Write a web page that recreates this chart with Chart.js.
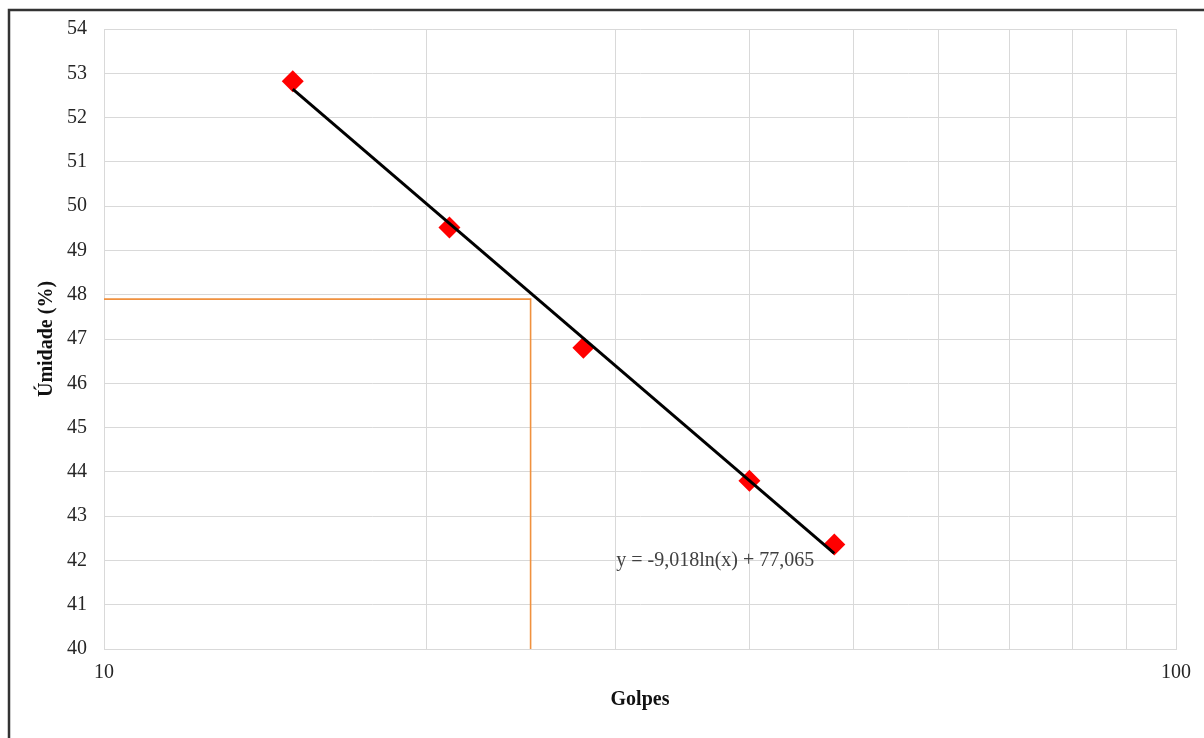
<!DOCTYPE html>
<html>
<head>
<meta charset="utf-8">
<script src="https://cdn.jsdelivr.net/npm/chart.js@4/dist/chart.umd.min.js"></script>
<style>
  html, body { margin: 0; padding: 0; background: #fff; }
  #wrap { width: 1204px; height: 738px; }
</style>
</head>
<body>
<div id="wrap"><canvas id="golpes_chart" width="1204" height="738"></canvas></div>
<script>
// Points
const golpes = [15, 21, 28, 40, 48];
const umidade = [52.82, 49.52, 46.8, 43.8, 42.36];

// Trendline endpoints (y = -9,018ln(x) + 77,065)
const trendX = [15, 48];
const trendY = [52.64, 42.16];

// Orange guide lines (reading at 25 golpes)
const guideX = [10, 25, 25];
const guideY = [47.9, 47.9, 40];

const equationText = "y = -9,018ln(x) + 77,065";
const xGridTicks = [10, 20, 30, 40, 50, 60, 70, 80, 90, 100];
const xTickLabels = [10, 100];

const serif = "'Liberation Serif', 'Times New Roman', serif";

// Outer frame + equation label
const extras = {
  id: "extras",
  beforeDraw(chart) {
    const ctx = chart.ctx;
    ctx.save();
    ctx.fillStyle = "#fff";
    ctx.fillRect(0, 0, chart.width, chart.height);
    ctx.restore();
  },
  afterDraw(chart) {
    const ctx = chart.ctx;
    const { x, y } = chart.scales;
    ctx.save();
    ctx.strokeStyle = "#333";
    ctx.lineWidth = 2.5;
    ctx.strokeRect(9, 10, 1204, 740);
    ctx.font = "20px " + serif;
    ctx.fillStyle = "#404040";
    ctx.textAlign = "right";
    ctx.textBaseline = "middle";
    ctx.fillText(equationText, x.getPixelForValue(trendX[1]) - 20, y.getPixelForValue(trendY[1]) + 7);
    ctx.restore();
  },
};

const ctx = document.getElementById("golpes_chart").getContext("2d");

new Chart(ctx, {
  type: "scatter",
  data: {
    datasets: [
      {
        label: "Tendência",
        type: "line",
        data: trendX.map((v, i) => ({ x: v, y: trendY[i] })),
        borderColor: "#000",
        borderWidth: 3,
        pointRadius: 0,
        fill: false,
        order: 0,
      },
      {
        label: "Umidade",
        data: golpes.map((v, i) => ({ x: v, y: umidade[i] })),
        pointStyle: "rectRot",
        pointRadius: 11,
        pointBorderWidth: 0,
        backgroundColor: "#ff0000",
        borderColor: "#ff0000",
        order: 1,
      },
      {
        label: "Guia",
        type: "line",
        data: guideX.map((v, i) => ({ x: v, y: guideY[i] })),
        borderColor: "#f0913f",
        borderWidth: 1.6,
        pointRadius: 0,
        fill: false,
        order: 2,
      },
    ],
  },
  options: {
    responsive: false,
    animation: false,
    layout: { padding: { left: 10, top: 27, right: 28, bottom: 0 } },
    plugins: {
      legend: { display: false },
      tooltip: { enabled: false },
    },
    scales: {
      x: {
        type: "logarithmic",
        min: 10,
        max: 100,
        afterBuildTicks: (scale) => {
          scale.ticks = xGridTicks.map((v) => ({ value: v }));
        },
        grid: { color: "#d9d9d9", lineWidth: 1, drawTicks: false },
        border: { color: "#d9d9d9" },
        ticks: {
          autoSkip: false,
          maxRotation: 0,
          padding: 12,
          color: "#262626",
          font: { family: serif, size: 20 },
          callback: (v) => (xTickLabels.includes(v) ? String(v) : ""),
        },
        title: {
          display: true,
          text: "Golpes",
          color: "#111",
          font: { family: serif, size: 20, weight: "bold" },
          padding: { top: 0, bottom: 26 },
        },
        afterFit: (scale) => { scale.height = 89; },
      },
      y: {
        min: 40,
        max: 54,
        grid: { color: "#d9d9d9", lineWidth: 1, drawTicks: false },
        border: { color: "#d9d9d9" },
        ticks: {
          stepSize: 1,
          padding: 17,
          color: "#262626",
          font: { family: serif, size: 20 },
        },
        title: {
          display: true,
          text: "Úmidade (%)",
          color: "#111",
          font: { family: serif, size: 20, weight: "bold" },
          padding: { top: 25, bottom: 0 },
        },
        afterFit: (scale) => { scale.width = 94; },
      },
    },
  },
  plugins: [extras],
});
</script>
</body>
</html>
